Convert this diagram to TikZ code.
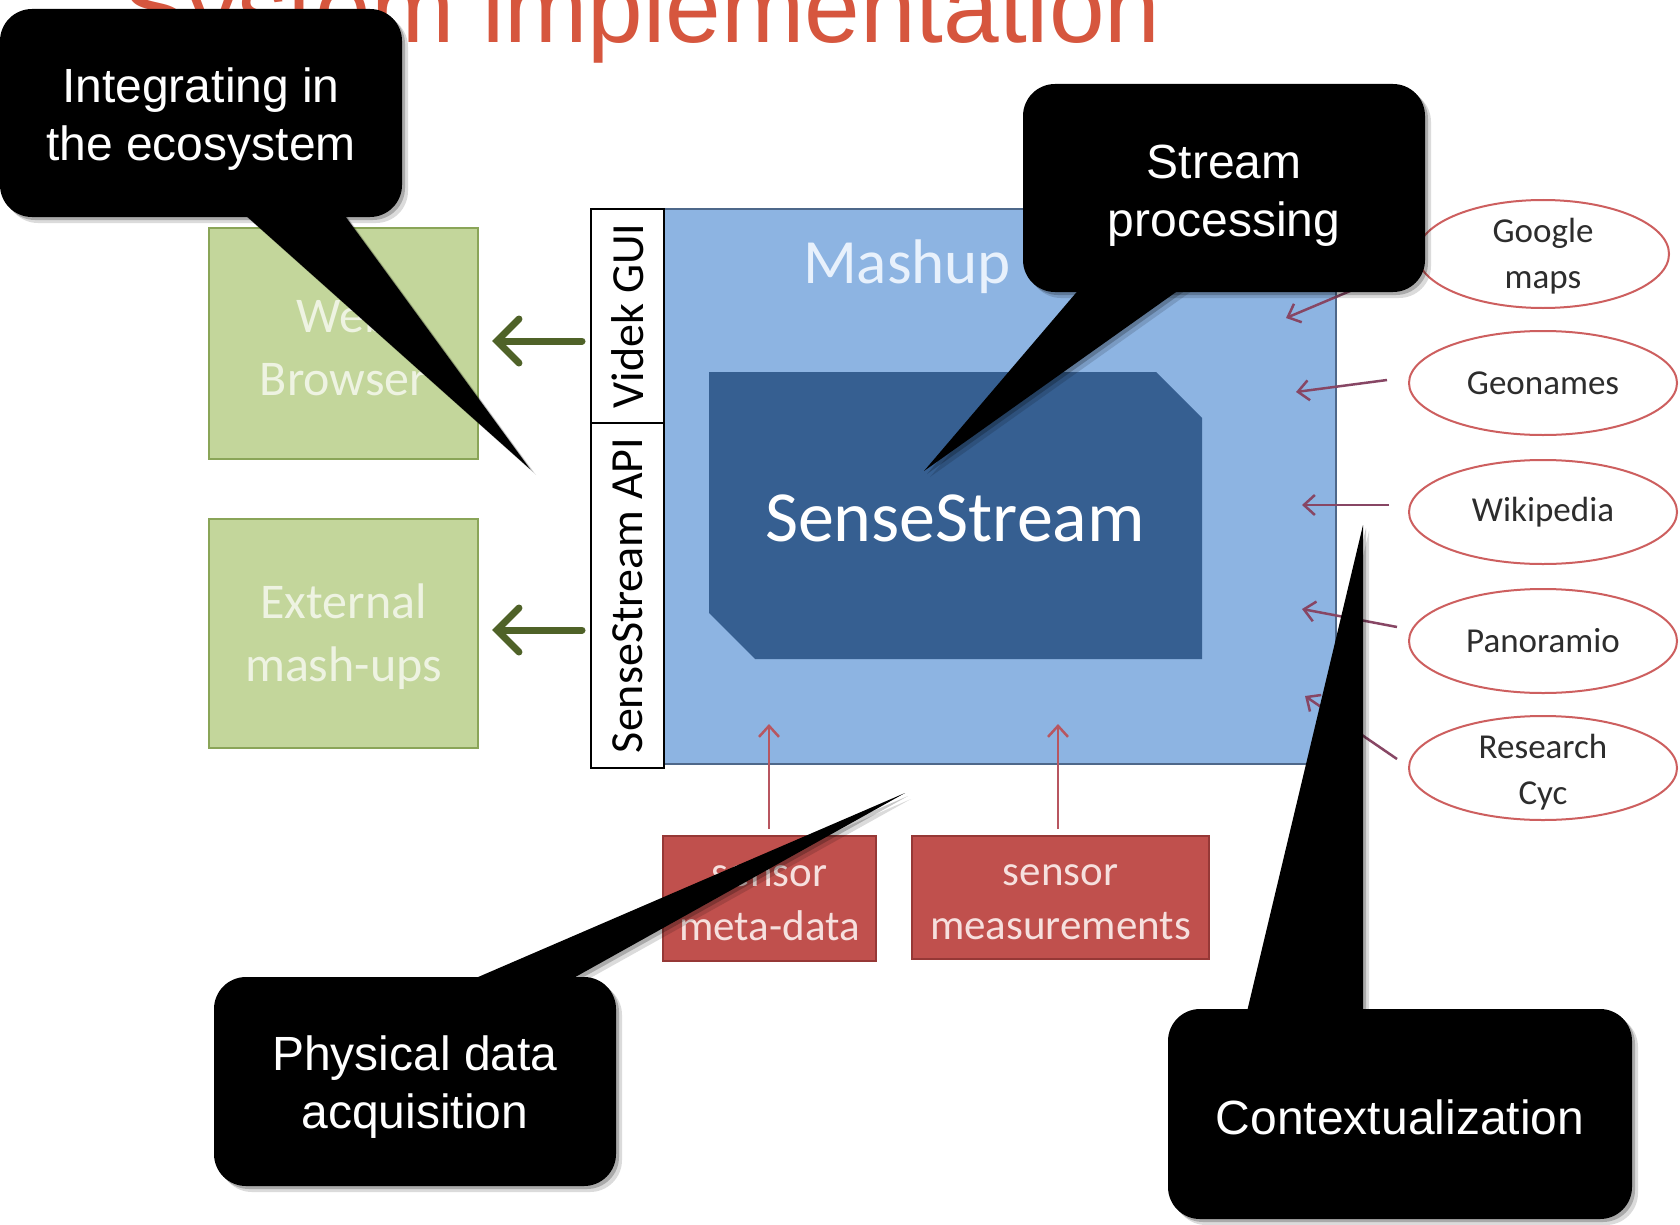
\documentclass[tikz,border=0pt]{standalone}
\usepackage{fontspec}
\setmainfont{Liberation Sans}
\newfontfamily\calib{Carlito}
\usetikzlibrary{arrows.meta,shapes.geometric,calc}

\definecolor{titlered}{RGB}{214,86,62}
\definecolor{mashfill}{RGB}{141,180,226}
\definecolor{mashline}{RGB}{78,104,138}
\definecolor{mashtext}{RGB}{232,241,252}
\definecolor{coreblue}{RGB}{54,95,145}
\definecolor{greenfill}{RGB}{195,214,155}
\definecolor{greenline}{RGB}{138,165,88}
\definecolor{greentext}{RGB}{238,243,226}
\definecolor{greenarrow}{RGB}{79,98,40}
\definecolor{redfill}{RGB}{192,80,77}
\definecolor{redline}{RGB}{150,56,54}
\definecolor{redtext}{RGB}{246,224,222}
\definecolor{sensarrow}{RGB}{184,86,96}
\definecolor{ctxarrow}{RGB}{135,70,100}
\definecolor{ellline}{RGB}{205,95,95}
\definecolor{elltext}{RGB}{45,45,45}

% speech bubble: rounded box (x1,y1)-(x2,y2) plus a wedge from base points a,b to tip
\newcommand\speechbubble[7]{%
  \fill[rounded corners=32pt] (#1,#2) rectangle (#3,#4);
  \fill (#5) -- (#7) -- (#6) -- cycle;}

\tikzset{
  greenbox/.style={draw=greenline, line width=2pt, fill=greenfill, inner sep=0pt,
    minimum width=269pt, text=greentext, align=center,
    font=\calib\fontsize{50}{63}\selectfont},
  stripbox/.style={draw=black, line width=2.5pt, fill=white, inner sep=0pt,
    minimum height=73pt, font=\calib\fontsize{46}{50}\selectfont},
  sensorbox/.style={draw=redline, line width=2pt, fill=redfill, inner sep=0pt,
    text=redtext, align=center, font=\calib\fontsize{43}{54}\selectfont},
  source/.style={ellipse, draw=ellline, line width=2pt, fill=white, inner sep=0pt,
    minimum width=268pt, minimum height=104pt, text=elltext, align=center,
    font=\calib\fontsize{35}{46}\selectfont},
  lbl/.style={inner sep=0pt},
  apiarrow/.style={draw=greenarrow, line width=7pt, line cap=round,
    -{Straight Barb[length=22pt,width=44pt,line cap=round]}},
  feedarrow/.style={draw=sensarrow, line width=2.5pt,
    -{Straight Barb[length=11pt,width=20pt]}},
  ctxlink/.style={draw=ctxarrow, line width=2.5pt,
    -{Straight Barb[length=11pt,width=20pt]}},
  bubbletext/.style={text=white, align=center, inner sep=0pt,
    font=\fontsize{48}{58}\selectfont},
}

\begin{document}
\begin{tikzpicture}[x=1pt,y=-1pt]
\useasboundingbox (0,0) rectangle (1680,1225);
\clip (0,0) rectangle (1680,1225);
\fill[white] (0,0) rectangle (1680,1225);

% slide title, running off the top edge
\node[anchor=base west, inner sep=0pt, text=titlered,
      font=\fontsize{100}{120}\selectfont] (title) at (121,43) {System implementation};

% Mashup container
\node[draw=mashline, line width=2pt, fill=mashfill, inner sep=0pt,
      minimum width=672pt, minimum height=555pt] (mash) at (1000,486.5) {};
\node[text=mashtext, font=\calib\fontsize{63}{70}\selectfont] (mashlbl) at (907,267) {Mashup};

% SenseStream core with two chamfered corners
\fill[coreblue] (709,372) -- (1156,372) -- (1202,418) -- (1202,659)
  -- (755,659) -- (709,613) -- cycle;
\node[text=white, font=\calib\fontsize{72}{80}\selectfont] (core) at (955,518) {SenseStream};

% interface strip
\node[stripbox, rotate=90, minimum width=214pt] (videk) at (627.5,316) {Videk GUI};
\node[stripbox, rotate=90, minimum width=345pt] (api) at (627.5,595.5) {SenseStream API};

% consumers
\node[greenbox, minimum width=269pt, minimum height=231pt] (web) at (343.5,343.5) {};
\node[lbl, text=greentext, align=center, font=\calib\fontsize{50}{63}\selectfont]
  (webtxt) at (343.5,347) {Web\\Browser};
\node[greenbox, minimum width=269pt, minimum height=229pt] (ext) at (343.5,633.5) {};
\node[lbl, text=greentext, align=center, font=\calib\fontsize{50}{63}\selectfont]
  (exttxt) at (343.5,637) {External\\mash-ups};

\coordinate (outA) at (582,341);
\coordinate (outB) at (582,630);
\draw[apiarrow, shorten >=13pt] (outA) -- (outA -| web.east);
\draw[apiarrow, shorten >=13pt] (outB) -- (outB -| ext.east);

% sensor inputs
\node[sensorbox, minimum width=213pt, minimum height=125pt] (meta) at (769.5,898.5) {};
\node[lbl, text=redtext, align=center, font=\calib\fontsize{43}{54}\selectfont]
  (metatxt) at (769.5,903) {sensor\\meta-data};
\node[sensorbox, minimum width=297pt, minimum height=123pt] (meas) at (1060.5,897.5) {};
\node[lbl, text=redtext, align=center, font=\calib\fontsize{43}{54}\selectfont]
  (meastxt) at (1060.5,902) {sensor\\measurements};

\coordinate (inMeta) at (769,724);
\coordinate (inMeas) at (1058,724);
\draw[feedarrow, shorten <=6pt] (meta.north -| inMeta) -- (inMeta);
\draw[feedarrow, shorten <=6pt] (meas.north -| inMeas) -- (inMeas);

% context sources
\node[source, minimum width=252pt, minimum height=108pt] (gm) at (1543,254) {};
\node[lbl, text=elltext, align=center, font=\calib\fontsize{35}{46}\selectfont]
  (gmtxt) at (1543,256) {Google\\maps};
\node[source] (geo) at (1543,383) {Geonames};
\node[source] (wiki) at (1543,512) {Wikipedia};
\node[source] (pano) at (1543,641) {Panoramio};
\node[source] (cyc) at (1543,768) {};
\node[lbl, text=elltext, align=center, font=\calib\fontsize{35}{46}\selectfont]
  (cyctxt) at (1543,772) {Research\\Cyc};

\coordinate (tGm) at (1286,318);
\coordinate (tGeo) at (1296,392);
\coordinate (tWiki) at (1302,505);
\coordinate (tPano) at (1302,609);
\coordinate (tCyc) at (1305,696);
\draw[ctxlink] ($(gm.west)+(3,8)$) -- (tGm);
\draw[ctxlink] ($(geo.west)+(-21,-3)$) -- (tGeo);
\draw[ctxlink] ($(wiki.west)+(-19,-7)$) -- (tWiki);
\draw[ctxlink] ($(pano.west)+(-11,-14)$) -- (tPano);
\draw[ctxlink] ($(cyc.west)+(-11,-9)$) -- (tCyc);

% speech bubbles: soft shadow first, then the black shapes
\begin{scope}[fill=black, opacity=0.14, shift={(6,6)}]
  \speechbubble{0}{9}{402}{217}{234,205}{337,205}{530,469}
  \speechbubble{1023}{84}{1425}{292}{1087,280}{1193,280}{924,471}
  \speechbubble{214}{977}{616}{1186}{448,990}{552,990}{905,793}
  \speechbubble{1168}{1009}{1632}{1219}{1245,1020}{1363,1020}{1363,525}
\end{scope}
\begin{scope}[fill=black, opacity=0.22, shift={(3,3)}]
  \speechbubble{0}{9}{402}{217}{234,205}{337,205}{530,469}
  \speechbubble{1023}{84}{1425}{292}{1087,280}{1193,280}{924,471}
  \speechbubble{214}{977}{616}{1186}{448,990}{552,990}{905,793}
  \speechbubble{1168}{1009}{1632}{1219}{1245,1020}{1363,1020}{1363,525}
\end{scope}
\begin{scope}[fill=black]
  \speechbubble{0}{9}{402}{217}{234,205}{337,205}{530,469}
  \speechbubble{1023}{84}{1425}{292}{1087,280}{1193,280}{924,471}
  \speechbubble{214}{977}{616}{1186}{448,990}{552,990}{905,793}
  \speechbubble{1168}{1009}{1632}{1219}{1245,1020}{1363,1020}{1363,525}
\end{scope}

\node[bubbletext] (bEco) at (201,119) {Integrating in\\the ecosystem};
\node[bubbletext] (bStream) at (1224,196) {Stream\\processing};
\node[bubbletext] (bPhys) at (415,1087) {Physical data\\acquisition};
\node[bubbletext] (bCtx) at (1400,1117) {Contextualization};
\end{tikzpicture}
\end{document}
